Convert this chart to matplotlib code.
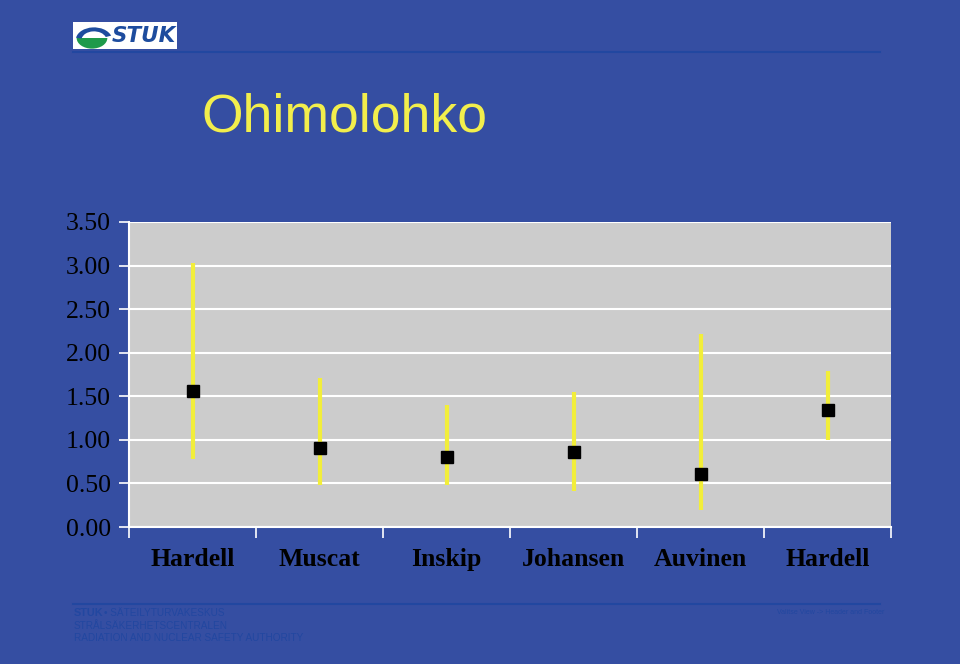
import numpy as np
import matplotlib.pyplot as plt
from matplotlib.patches import Rectangle, Wedge

# study names and relative risk estimates with confidence limits
studies = ['Hardell', 'Muscat', 'Inskip', 'Johansen', 'Auvinen', 'Hardell']
estimate = [1.56, 0.91, 0.80, 0.86, 0.61, 1.34]
lower = [0.78, 0.48, 0.48, 0.41, 0.20, 1.00]
upper = [3.03, 1.71, 1.40, 1.55, 2.21, 1.79]
y_ticks = [0.0, 0.5, 1.0, 1.5, 2.0, 2.5, 3.0, 3.5]

BG = '#354EA2'
DARK = '#2247A0'

fig = plt.figure(figsize=(9.6, 6.64), dpi=100)
fig.patch.set_facecolor(BG)

W, H = 960, 664
def fx(px):
    return px / W
def fy(py):
    return 1 - py / H

# header logo
fig.patches.append(Rectangle((fx(73), fy(49)), fx(104), 27 / H, transform=fig.transFigure,
                             facecolor='white', edgecolor='none'))
fig.patches.append(Wedge((fx(92), fy(38)), 0.016, 180, 360, transform=fig.transFigure,
                         facecolor='#1E9A4A', edgecolor='none'))
fig.patches.append(Wedge((fx(94), fy(40)), 0.019, 20, 170, width=0.006, transform=fig.transFigure,
                         facecolor='#1D4C9E', edgecolor='none'))
fig.text(fx(112), fy(36.5), 'STUK', fontsize=15.5, fontweight='bold', style='italic',
         color='#1D4C9E', va='center', ha='left', family='DejaVu Sans')
fig.add_artist(plt.Line2D([fx(73), fx(880)], [fy(52), fy(52)], transform=fig.transFigure,
                          color=DARK, lw=1.5))

fig.text(fx(344), fy(117), 'Ohimolohko', fontsize=38.5, color='#F2EE4C',
         ha='center', va='center', family='Liberation Sans')

# chart
ax = fig.add_axes([fx(129), fy(527), fx(891) - fx(129), (527 - 222) / H])
ax.set_facecolor('#CCCCCC')
x = np.arange(len(studies))
for xi, lo, hi in zip(x, lower, upper):
    ax.plot([xi, xi], [lo, hi], color='#F2EE3A', lw=3, solid_capstyle='butt', zorder=2)
ax.plot(x, estimate, 's', color='black', markersize=8.5, zorder=3)

ax.set_xlim(-0.5, len(studies) - 0.5)
ax.set_ylim(0, 3.5)
ax.set_yticks(y_ticks)
ax.set_yticklabels(['%.2f' % v for v in y_ticks], fontsize=18.5, family='Liberation Serif')
ax.yaxis.grid(True, color='white', lw=1.5)
ax.set_axisbelow(True)

ax.set_xticks(np.arange(-0.5, len(studies), 1.0))
ax.set_xticklabels([])
ax.set_xticks(x, minor=True)
ax.set_xticklabels(studies, minor=True, fontsize=18.5, fontweight='bold', family='Liberation Serif')
ax.tick_params(axis='x', which='minor', length=0, pad=15)
ax.tick_params(axis='x', which='major', length=8, color='white', width=1.2)
ax.tick_params(axis='y', length=7, color='white', width=1.2, pad=6)

for side in ['top', 'right']:
    ax.spines[side].set_visible(False)
for side in ['left', 'bottom']:
    ax.spines[side].set_color('white')
    ax.spines[side].set_linewidth(1.5)

# footer
fig.add_artist(plt.Line2D([fx(73), fx(880)], [fy(604), fy(604)], transform=fig.transFigure,
                          color=DARK, lw=1.5))
fig.text(fx(74), fy(613), 'STUK', fontsize=7.8, fontweight='bold', color=DARK, va='center',
         family='Liberation Sans')
fig.text(fx(104), fy(613), '\u2022 SÄTEILYTURVAKESKUS', fontsize=7.2, color=DARK, va='center',
         family='Liberation Sans')
fig.text(fx(74), fy(626), 'STRÅLSÄKERHETSCENTRALEN', fontsize=7.2, color=DARK, va='center',
         family='Liberation Sans')
fig.text(fx(74), fy(638), 'RADIATION AND NUCLEAR SAFETY AUTHORITY', fontsize=7.2, color=DARK,
         va='center', family='Liberation Sans')
fig.text(fx(884), fy(612), 'Valitse View -> Header and Footer', fontsize=5, color=DARK,
         va='center', ha='right', family='Liberation Sans')

plt.savefig('out.png', dpi=100, facecolor=fig.get_facecolor())
